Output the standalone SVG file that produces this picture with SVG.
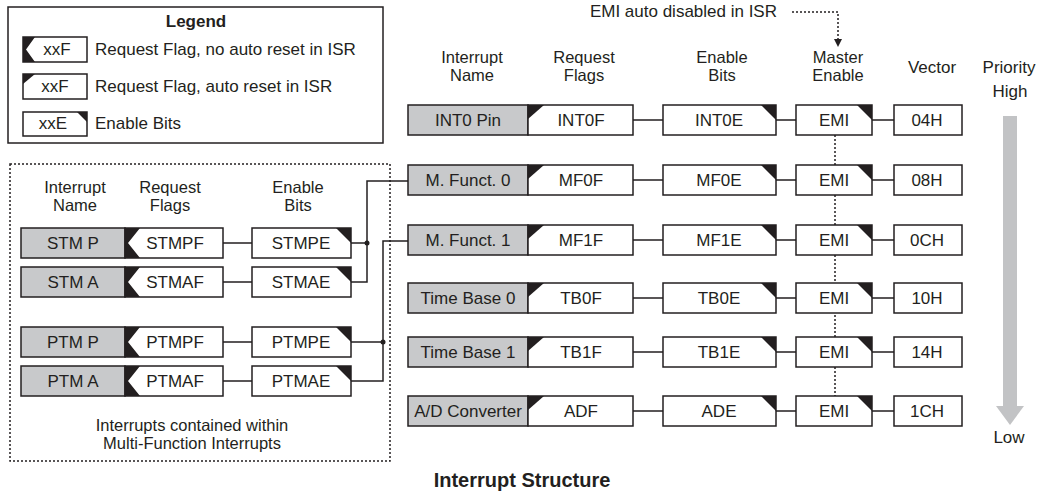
<svg xmlns="http://www.w3.org/2000/svg" width="1039" height="492" viewBox="0 0 1039 492">
<style>
.box{fill:#fff;stroke:#231f20;stroke-width:1.5}
.nm{fill:#c8c9cb;stroke:#231f20;stroke-width:1.5}
.blk{fill:#231f20}
.t{font-family:"Liberation Sans",Arial,sans-serif;font-size:17px;fill:#231f20;text-anchor:middle}
.h{font-size:16.5px}
.s{text-anchor:start}
.e{text-anchor:end}
.b{font-weight:bold}
.ln{stroke:#231f20;stroke-width:1.5;fill:none}
.dt{stroke:#231f20;stroke-width:1.5;stroke-dasharray:2 2;fill:none}
</style>
<rect width="1039" height="492" fill="#fff"/>

<!-- Legend -->
<g id="legend">
<rect class="box" x="8" y="7" width="375" height="136"/>
<text class="t b" x="196" y="27">Legend</text>
<rect class="box" x="23" y="37" width="64" height="25"/>
<polygon class="blk" points="23,37 35,37 26,49.5 35,62 23,62"/>
<text class="t" x="57" y="55">xxF</text>
<text class="t s" x="95" y="55">Request Flag, no auto reset in ISR</text>
<rect class="box" x="23" y="74" width="64" height="25"/>
<polygon class="blk" points="23,74 35,74 23,84"/>
<text class="t" x="55" y="92">xxF</text>
<text class="t s" x="95" y="92">Request Flag, auto reset in ISR</text>
<rect class="box" x="23" y="112" width="64" height="24"/>
<polygon class="blk" points="77,112 87,112 87,122"/>
<text class="t" x="53" y="129">xxE</text>
<text class="t s" x="95" y="129">Enable Bits</text>
</g>

<!-- Multi-function group box -->
<g id="mf-group">
<rect class="dt" x="10" y="164" width="380" height="297"/>
<text class="t h" x="75" y="193">Interrupt</text>
<text class="t h" x="75" y="211">Name</text>
<text class="t h" x="170" y="193">Request</text>
<text class="t h" x="170" y="211">Flags</text>
<text class="t h" x="298" y="193">Enable</text>
<text class="t h" x="298" y="211">Bits</text>
<text class="t h" x="192" y="431">Interrupts contained within</text>
<text class="t h" x="192" y="449">Multi-Function Interrupts</text>
</g>

<!-- Headers -->
<g id="headers">
<text class="t e" x="777" y="17">EMI auto disabled in ISR</text>
<text class="t h" x="472" y="63">Interrupt</text>
<text class="t h" x="472" y="81">Name</text>
<text class="t h" x="584" y="63">Request</text>
<text class="t h" x="584" y="81">Flags</text>
<text class="t h" x="722" y="63">Enable</text>
<text class="t h" x="722" y="81">Bits</text>
<text class="t h" x="838" y="63">Master</text>
<text class="t h" x="838" y="81">Enable</text>
<text class="t" x="932" y="73">Vector</text>
<text class="t" x="1009" y="73">Priority</text>
<text class="t" x="1010" y="97">High</text>
<text class="t" x="1009" y="443">Low</text>
<text class="t b" x="522" y="487" style="font-size:20px">Interrupt Structure</text>
</g>

<!-- Priority arrow -->
<g id="priority-arrow">
<rect x="1003" y="116" width="14" height="291" fill="#c2c3c5"/>
<polygon points="996,406 1024,406 1010,425" fill="#c2c3c5"/>
</g>

<!-- Connectors -->
<g id="connectors">
<path class="dt" d="M792,12 H838 V40"/>
<polygon class="blk" points="834,39 842,39 838,47"/>
<line class="dt" x1="835" y1="135" x2="835" y2="396"/>
<path class="ln" d="M633,120H663M776,120H796M872,120H894"/>
<path class="ln" d="M633,180H663M776,180H796M872,180H894"/>
<path class="ln" d="M633,240H663M776,240H796M872,240H894"/>
<path class="ln" d="M633,298H663M776,298H796M872,298H894"/>
<path class="ln" d="M633,352H663M776,352H796M872,352H894"/>
<path class="ln" d="M633,411H663M776,411H796M872,411H894"/>
<path class="ln" d="M223,243H252M223,282H252M223,342H252M223,381H252"/>
<path class="ln" d="M351,243H367M351,282H367V181H408"/>
<circle class="blk" cx="367" cy="243" r="2.5"/>
<path class="ln" d="M351,342H383M351,381H383V241H408"/>
<circle class="blk" cx="383" cy="342" r="2.5"/>
</g>

<!-- Left rows -->
<g id="stm-p">
<rect class="nm" x="21" y="228" width="104" height="30"/><text class="t" x="73" y="249">STM P</text>
</g>
<g id="stmpf">
<rect class="box" x="125" y="228" width="98" height="30"/><polygon class="blk" points="125,228 140,228 128,243 140,258 125,258"/><text class="t" x="175" y="249">STMPF</text>
</g>
<g id="stmpe">
<rect class="box" x="252" y="228" width="99" height="30"/><polygon class="blk" points="336,228 351,228 351,243"/><text class="t" x="301" y="249">STMPE</text>
</g>
<g id="stm-a">
<rect class="nm" x="21" y="267" width="104" height="30"/><text class="t" x="73" y="288">STM A</text>
</g>
<g id="stmaf">
<rect class="box" x="125" y="267" width="98" height="30"/><polygon class="blk" points="125,267 140,267 128,282 140,297 125,297"/><text class="t" x="175" y="288">STMAF</text>
</g>
<g id="stmae">
<rect class="box" x="252" y="267" width="99" height="30"/><polygon class="blk" points="336,267 351,267 351,282"/><text class="t" x="301" y="288">STMAE</text>
</g>
<g id="ptm-p">
<rect class="nm" x="21" y="327" width="104" height="30"/><text class="t" x="73" y="348">PTM P</text>
</g>
<g id="ptmpf">
<rect class="box" x="125" y="327" width="98" height="30"/><polygon class="blk" points="125,327 140,327 128,342 140,357 125,357"/><text class="t" x="175" y="348">PTMPF</text>
</g>
<g id="ptmpe">
<rect class="box" x="252" y="327" width="99" height="30"/><polygon class="blk" points="336,327 351,327 351,342"/><text class="t" x="301" y="348">PTMPE</text>
</g>
<g id="ptm-a">
<rect class="nm" x="21" y="366" width="104" height="30"/><text class="t" x="73" y="387">PTM A</text>
</g>
<g id="ptmaf">
<rect class="box" x="125" y="366" width="98" height="30"/><polygon class="blk" points="125,366 140,366 128,381 140,396 125,396"/><text class="t" x="175" y="387">PTMAF</text>
</g>
<g id="ptmae">
<rect class="box" x="252" y="366" width="99" height="30"/><polygon class="blk" points="336,366 351,366 351,381"/><text class="t" x="301" y="387">PTMAE</text>
</g>

<!-- Right rows -->
<g id="int0-pin"><rect class="nm" x="408" y="105" width="120" height="30"/><text class="t" x="468" y="126">INT0 Pin</text></g>
<g id="int0f"><rect class="box" x="528" y="105" width="105" height="30"/><polygon class="blk" points="528,105 544,105 528,119"/><text class="t" x="581" y="126">INT0F</text></g>
<g id="int0e"><rect class="box" x="663" y="105" width="113" height="30"/><polygon class="blk" points="761,105 776,105 776,120"/><text class="t" x="719" y="126">INT0E</text></g>
<g id="emi-0"><rect class="box" x="796" y="105" width="76" height="30"/><polygon class="blk" points="857,105 872,105 872,120"/><text class="t" x="834" y="126">EMI</text></g>
<g id="vec-04h"><rect class="box" x="894" y="105" width="68" height="30"/><text class="t" x="927" y="126">04H</text></g>

<g id="mfunct-0"><rect class="nm" x="408" y="165" width="120" height="30"/><text class="t" x="468" y="186">M. Funct. 0</text></g>
<g id="mf0f"><rect class="box" x="528" y="165" width="105" height="30"/><polygon class="blk" points="528,165 544,165 528,179"/><text class="t" x="581" y="186">MF0F</text></g>
<g id="mf0e"><rect class="box" x="663" y="165" width="113" height="30"/><polygon class="blk" points="761,165 776,165 776,180"/><text class="t" x="719" y="186">MF0E</text></g>
<g id="emi-1"><rect class="box" x="796" y="165" width="76" height="30"/><polygon class="blk" points="857,165 872,165 872,180"/><text class="t" x="834" y="186">EMI</text></g>
<g id="vec-08h"><rect class="box" x="894" y="165" width="68" height="30"/><text class="t" x="927" y="186">08H</text></g>

<g id="mfunct-1"><rect class="nm" x="408" y="225" width="120" height="30"/><text class="t" x="468" y="246">M. Funct. 1</text></g>
<g id="mf1f"><rect class="box" x="528" y="225" width="105" height="30"/><polygon class="blk" points="528,225 544,225 528,239"/><text class="t" x="581" y="246">MF1F</text></g>
<g id="mf1e"><rect class="box" x="663" y="225" width="113" height="30"/><polygon class="blk" points="761,225 776,225 776,240"/><text class="t" x="719" y="246">MF1E</text></g>
<g id="emi-2"><rect class="box" x="796" y="225" width="76" height="30"/><polygon class="blk" points="857,225 872,225 872,240"/><text class="t" x="834" y="246">EMI</text></g>
<g id="vec-0ch"><rect class="box" x="894" y="225" width="68" height="30"/><text class="t" x="927" y="246">0CH</text></g>

<g id="timebase-0"><rect class="nm" x="408" y="283" width="120" height="30"/><text class="t" x="468" y="304">Time Base 0</text></g>
<g id="tb0f"><rect class="box" x="528" y="283" width="105" height="30"/><polygon class="blk" points="528,283 544,283 528,297"/><text class="t" x="581" y="304">TB0F</text></g>
<g id="tb0e"><rect class="box" x="663" y="283" width="113" height="30"/><polygon class="blk" points="761,283 776,283 776,298"/><text class="t" x="719" y="304">TB0E</text></g>
<g id="emi-3"><rect class="box" x="796" y="283" width="76" height="30"/><polygon class="blk" points="857,283 872,283 872,298"/><text class="t" x="834" y="304">EMI</text></g>
<g id="vec-10h"><rect class="box" x="894" y="283" width="68" height="30"/><text class="t" x="927" y="304">10H</text></g>

<g id="timebase-1"><rect class="nm" x="408" y="337" width="120" height="30"/><text class="t" x="468" y="358">Time Base 1</text></g>
<g id="tb1f"><rect class="box" x="528" y="337" width="105" height="30"/><polygon class="blk" points="528,337 544,337 528,351"/><text class="t" x="581" y="358">TB1F</text></g>
<g id="tb1e"><rect class="box" x="663" y="337" width="113" height="30"/><polygon class="blk" points="761,337 776,337 776,352"/><text class="t" x="719" y="358">TB1E</text></g>
<g id="emi-4"><rect class="box" x="796" y="337" width="76" height="30"/><polygon class="blk" points="857,337 872,337 872,352"/><text class="t" x="834" y="358">EMI</text></g>
<g id="vec-14h"><rect class="box" x="894" y="337" width="68" height="30"/><text class="t" x="927" y="358">14H</text></g>

<g id="ad-converter"><rect class="nm" x="408" y="396" width="120" height="30"/><text class="t" x="468" y="417">A/D Converter</text></g>
<g id="adf"><rect class="box" x="528" y="396" width="105" height="30"/><polygon class="blk" points="528,396 544,396 528,410"/><text class="t" x="581" y="417">ADF</text></g>
<g id="ade"><rect class="box" x="663" y="396" width="113" height="30"/><polygon class="blk" points="761,396 776,396 776,411"/><text class="t" x="719" y="417">ADE</text></g>
<g id="emi-5"><rect class="box" x="796" y="396" width="76" height="30"/><polygon class="blk" points="857,396 872,396 872,411"/><text class="t" x="834" y="417">EMI</text></g>
<g id="vec-1ch"><rect class="box" x="894" y="396" width="68" height="30"/><text class="t" x="927" y="417">1CH</text></g>
</svg>
